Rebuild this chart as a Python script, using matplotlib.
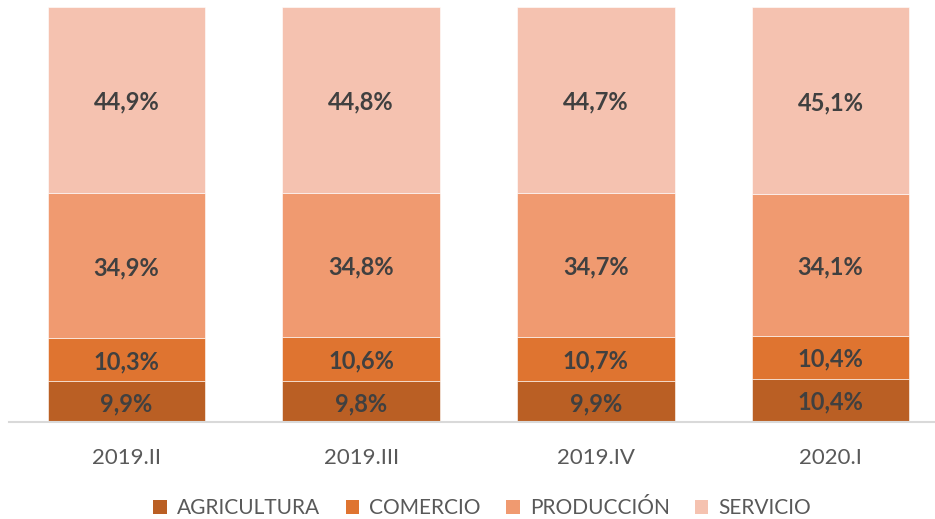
import matplotlib
matplotlib.use("Agg")
import matplotlib.pyplot as plt
from matplotlib.patches import Patch
import numpy as np

categories = ["2019.II", "2019.III", "2019.IV", "2020.I"]
agricultura = [9.9, 9.8, 9.9, 10.4]
comercio = [10.3, 10.6, 10.7, 10.4]
produccion = [34.9, 34.8, 34.7, 34.1]
servicio = [44.9, 44.8, 44.7, 45.1]
series_names = ["AGRICULTURA", "COMERCIO", "PRODUCCIÓN", "SERVICIO"]
colors = ["#BA5F24", "#DF7430", "#F09A70", "#F5C2B0"]

plt.rcParams['font.family'] = ['Lato', 'DejaVu Sans']

fig = plt.figure(figsize=(9.35, 5.19), dpi=100)
ax = fig.add_axes([9/935, 97/519, 939/935, 415/519])

x = np.arange(len(categories))
data = [agricultura, comercio, produccion, servicio]
bottom = np.zeros(len(categories))
for vals, c in zip(data, colors):
    vals = np.array(vals)
    ax.bar(x, vals, bottom=bottom, width=0.67, color=c, edgecolor="white", linewidth=0.4)
    for xi, b, v in zip(x, bottom, vals):
        ax.text(xi, b + v / 2, f"{v:.1f}%".replace(".", ","), ha="center", va="center_baseline",
                fontsize=17, fontweight="bold", color="#404040")
    bottom += vals

ax.set_xlim(-0.5, len(categories) - 0.5)
ax.set_ylim(0, 100)
ax.set_yticks([])
ax.set_xticks(x)
ax.set_xticklabels(categories, fontsize=16, color="#595959")
ax.tick_params(axis="x", length=0, pad=19)
for s in ["top", "right", "left"]:
    ax.spines[s].set_visible(False)
ax.spines["bottom"].set_color("#D9D9D9")
ax.spines["bottom"].set_linewidth(1.5)

handles = [Patch(facecolor=c, edgecolor="none") for c in colors]
fig.legend(handles, series_names, loc="center", bbox_to_anchor=(0.516, 11/519), ncol=4,
           frameon=False, fontsize=15, handlelength=0.65, handleheight=0.65,
           handletextpad=0.5, columnspacing=1.2, labelcolor="#595959")

fig.savefig("out.png", dpi=100)
